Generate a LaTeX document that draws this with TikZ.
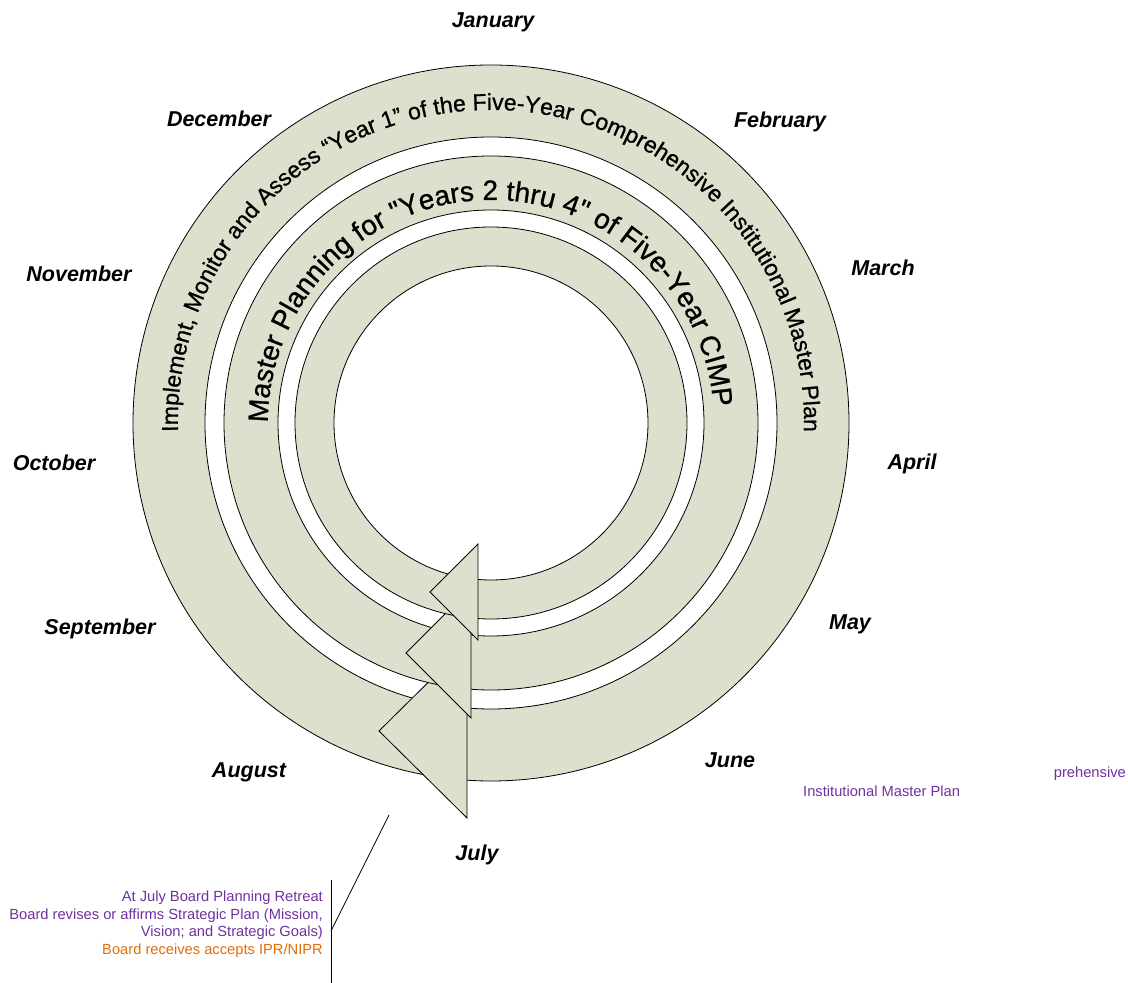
\documentclass[tikz,border=0pt]{standalone}
\usepackage{fontspec}
\setmainfont{Liberation Sans}[Ligatures=TeXOff]
\newfontfamily\ringfamily{Liberation Sans}[Ligatures=TeXOff, FakeBold=0.8]
\usetikzlibrary{decorations.text}
\definecolor{ringfill}{RGB}{221,224,204}
\definecolor{notepurple}{RGB}{112,48,160}
\definecolor{noteorange}{RGB}{227,108,10}
\newcommand\monthfont{\fontsize{21.5}{24}\selectfont\bfseries\itshape}
\newcommand\outerfont{\ringfamily\fontsize{23}{26}\selectfont}
\newcommand\middlefont{\ringfamily\fontsize{28}{32}\selectfont}
\newcommand\notefont{\fontsize{14.7}{17.4}\selectfont}
\tikzset{
  ringband/.style={fill=ringfill, draw=black, line width=0.8pt, even odd rule},
  arrowhead/.style={fill=ringfill, draw=black, line width=0.8pt, line join=miter},
  month/.style={anchor=base, inner sep=0pt, font=\monthfont},
  note/.style={inner sep=0pt, font=\notefont},
  leader/.style={draw=black, line width=0.8pt}
}
\begin{document}
\begin{tikzpicture}[x=1pt, y=1pt]
\useasboundingbox (0,0) rectangle (1128,983);
\coordinate (C) at (491,560);

% outer ring and its arrowhead
\path[ringband] (C) circle[radius=358] (C) circle[radius=286];
\coordinate (oa) at (379,252);
\coordinate (ob) at (467,339);
\coordinate (oc) at (467,165);
\path[arrowhead] (oa) -- (ob) -- (oc) -- cycle;

% middle ring and its arrowhead
\path[ringband] (C) circle[radius=267] (C) circle[radius=213];
\coordinate (ma) at (406,330);
\coordinate (mb) at (471,395);
\coordinate (mc) at (471,265);
\path[arrowhead] (ma) -- (mb) -- (mc) -- cycle;

% inner ring and its arrowhead
\path[ringband] (C) circle[radius=196] (C) circle[radius=157];
\coordinate (ia) at (430,391);
\coordinate (ib) at (478,439);
\coordinate (ic) at (478,343);
\path[arrowhead] (ia) -- (ib) -- (ic) -- cycle;

% text along the rings
\path[decorate, decoration={text along path, text align=center,
  text={|\outerfont|Implement, Monitor and Assess “Year 1” of the Five-Year Comprehensive Institutional Master Plan}}]
  ([shift={(200:313)}]C) arc[start angle=200, end angle=-20, radius=313];
\path[decorate, decoration={text along path, text align=center,
  text={|\middlefont|Master Planning for "Years 2 thru 4" of Five-Year CIMP}}]
  ([shift={(202:223)}]C) arc[start angle=202, end angle=-18, radius=223];

% months
\node[month] (jan) at (493,955) {January};
\node[month] (feb) at (780,855) {February};
\node[month] (mar) at (883,707) {March};
\node[month] (apr) at (912,513) {April};
\node[month] (may) at (850,353) {May};
\node[month] (jun) at (730,215) {June};
\node[month] (jul) at (477,122) {July};
\node[month] (aug) at (249,205) {August};
\node[month] (sep) at (100,348) {September};
\node[month] (oct) at (54,512) {October};
\node[month] (nov) at (79,701) {November};
\node[month] (dec) at (219,856) {December};

% stray purple labels
\node[note, text=notepurple, anchor=base east] (rp1) at (1126,205) {prehensive};
\node[note, text=notepurple, anchor=base west] (rp2) at (803,186) {Institutional Master Plan};

% callout
\coordinate (lineTop) at (389,168);
\coordinate (lineJoin) at (331,52);
\coordinate (barTop) at (331,103);
\coordinate (barBot) at (331,0);
\draw[leader] (lineTop) -- (lineJoin);
\draw[leader] (barTop) -- (barBot);
\node[note, text=notepurple, anchor=base east] (n1) at (323,81) {At July Board Planning Retreat};
\node[note, text=notepurple, anchor=base east] (n2) at (323,63.5) {Board revises or affirms Strategic Plan (Mission,};
\node[note, text=notepurple, anchor=base east] (n3) at (323,46) {Vision; and Strategic Goals)};
\node[note, text=noteorange, anchor=base east] (n4) at (323,28.5) {Board receives accepts IPR/NIPR};
\end{tikzpicture}
\end{document}
